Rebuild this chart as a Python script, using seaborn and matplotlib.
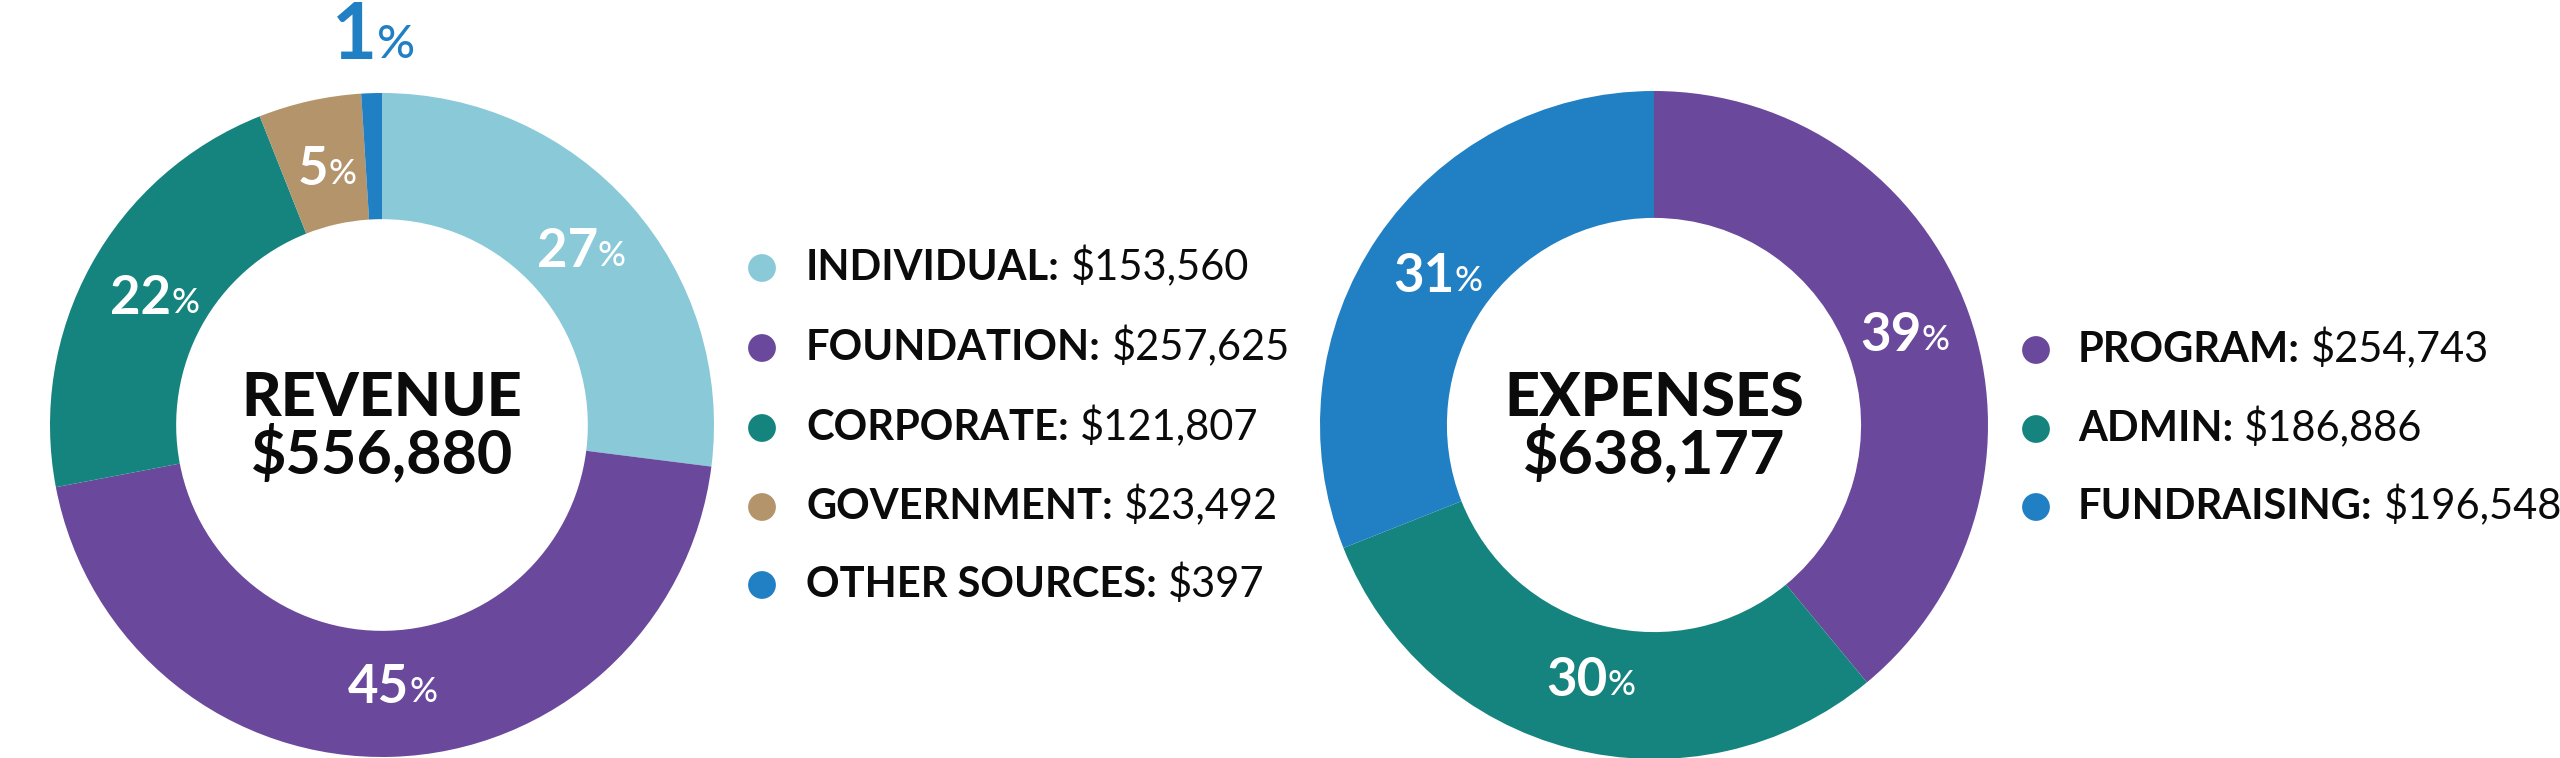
import matplotlib
matplotlib.use('Agg')
import matplotlib.pyplot as plt
import seaborn as sns
import numpy as np

# revenue donut
revenue_labels = ['INDIVIDUAL', 'FOUNDATION', 'CORPORATE', 'GOVERNMENT', 'OTHER SOURCES']
revenue_amounts = [153560, 257625, 121807, 23492, 397]
revenue_pct = [27, 45, 22, 5, 1]
revenue_colors = ['#89c9d8', '#6a489c', '#16847e', '#b3946b', '#2180c3']
revenue_total = 556880

# expenses donut
expense_labels = ['PROGRAM', 'ADMIN', 'FUNDRAISING']
expense_amounts = [254743, 186886, 196548]
expense_pct = [39, 30, 31]
expense_colors = ['#6a489c', '#16847e', '#2180c3']
expense_total = 638177

sns.set_theme(style='white')
plt.rcParams['font.family'] = ['Lato', 'DejaVu Sans']

W, H = 2560, 758
INK = '#0b0b0c'

fig = plt.figure(figsize=(W / 100, H / 100), dpi=100)
fig.patch.set_facecolor('white')

# background axes in pixel coords for the legends
ax_bg = fig.add_axes([0, 0, 1, 1])
ax_bg.set_xlim(0, W)
ax_bg.set_ylim(H, 0)
ax_bg.axis('off')


def donut(cx, cy, r, pct, colors, title, total):
    ax = fig.add_axes([(cx - r) / W, 1 - (cy + r) / H, 2 * r / W, 2 * r / H])
    wedges, _ = ax.pie(
        pct,
        colors=colors,
        startangle=90,
        counterclock=False,
        radius=1,
        wedgeprops=dict(width=0.38, edgecolor='none')
    )
    ax.set_xlim(-1, 1)
    ax.set_ylim(-1, 1)
    ax.axis('off')

    for w, p, c in zip(wedges, pct, colors):
        ang = np.deg2rad((w.theta1 + w.theta2) / 2)
        if p < 3:
            rr, col, fs, fs2 = 1.17, c, 56, 34
        else:
            rr, col, fs, fs2 = 0.79, 'white', 38, 25
        x, y = rr * np.cos(ang), rr * np.sin(ang)
        num = ax.annotate(
            f'{p}', xy=(x, y), xytext=(-fs2 * 0.33, 0),
            textcoords='offset points', ha='center', va='center',
            fontsize=fs, weight='bold', color=col, annotation_clip=False
        )
        # lift the small % so it sits on the digits' baseline
        ax.annotate(
            '%', xy=(1, 0), xycoords=num, xytext=(0, 0.21 * (fs - fs2)),
            textcoords='offset points', ha='left', va='bottom',
            fontsize=fs2, weight='medium', color=col
        )

    ax.text(0, 0.027, title, ha='center', va='baseline',
            fontsize=44, weight='black', color=INK)
    ax.text(0, -0.144, f'${total:,}', ha='center', va='baseline',
            fontsize=44, weight='bold', color=INK)


def legend(x_dot, x_text, ys, labels, amounts, colors):
    sns.scatterplot(
        x=[x_dot] * len(ys), y=ys, hue=labels, palette=colors,
        s=400, linewidth=0, legend=False, ax=ax_bg
    )
    for y, lab, amt in zip(ys, labels, amounts):
        t = ax_bg.text(x_text, y, f'{lab}:', ha='left', va='center',
                       fontsize=30, weight='bold', color=INK)
        ax_bg.annotate(f'${amt:,}', xy=(1, 0), xycoords=t,
                       xytext=(8, 0), textcoords='offset points',
                       ha='left', va='bottom', fontsize=30, color=INK)


donut(382, 425, 332, revenue_pct, revenue_colors, 'REVENUE', revenue_total)
donut(1654, 425, 334, expense_pct, expense_colors, 'EXPENSES', expense_total)

legend(762, 806, [268, 348, 428, 507, 585],
       revenue_labels, revenue_amounts, revenue_colors)
legend(2036, 2078, [350, 429, 507],
       expense_labels, expense_amounts, expense_colors)

fig.savefig('out.png', dpi=100, facecolor='white')
